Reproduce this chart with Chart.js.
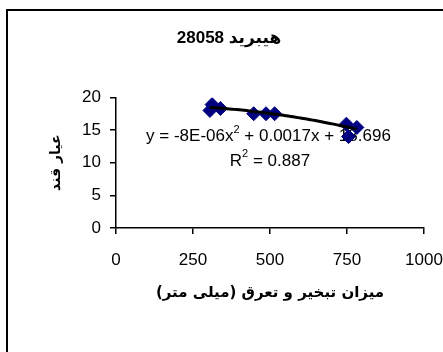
<!DOCTYPE html>
<html>
<head>
<meta charset="utf-8">
<script src="https://cdn.jsdelivr.net/npm/chart.js@4/dist/chart.umd.min.js"></script>
<style>
  html, body { margin: 0; padding: 0; background: #fff; }
  #wrap { width: 443px; height: 352px; }
</style>
</head>
<body>
<div id="wrap"><canvas id="c" width="443" height="352"></canvas></div>
<script>
// Observations: evapotranspiration (mm) vs. sugar content
const evapotranspiration = [305, 312, 339, 447, 487, 515, 748, 755, 782];
const sugarContent = [18.0, 18.9, 18.3, 17.5, 17.5, 17.5, 15.9, 14.0, 15.4];

// Polynomial trend line (order 2): a*x^2 + b*x + c
const trendCoef = [-8e-6, 0.0017, 18.696];
const trendR2 = '0.887';

const xTicks = [0, 250, 500, 750, 1000];
const yTicks = [0, 5, 10, 15, 20];

const chartTitle = 'هیبرید 28058';
const xTitle = 'میزان تبخیر و تعرق (میلی متر)\u200F';
const yTitle = 'عیار قند';

const LATIN = "'Liberation Sans', Arial, 'DejaVu Sans', sans-serif";

// Trend curve sampled over the observed range
const xMin = Math.min(...evapotranspiration);
const xMax = Math.max(...evapotranspiration);
const trendPoints = [];
for (let i = 0; i <= 60; i++) {
  const x = xMin + (xMax - xMin) * i / 60;
  trendPoints.push({ x, y: trendCoef[0] * x * x + trendCoef[1] * x + trendCoef[2] });
}

const scatterPoints = evapotranspiration.map((x, i) => ({ x, y: sugarContent[i] }));

// Outer frame (left and top edges)
const framePlugin = {
  id: 'frame',
  beforeDraw(chart) {
    const ctx = chart.ctx;
    ctx.save();
    ctx.strokeStyle = '#000';
    ctx.lineWidth = 2;
    ctx.beginPath();
    ctx.moveTo(7, chart.height);
    ctx.lineTo(7, 10);
    ctx.lineTo(chart.width, 10);
    ctx.stroke();
    ctx.restore();
  }
};

// Trend line equation and R² label
const equationPlugin = {
  id: 'equation',
  beforeDatasetsDraw(chart, args, opts) {
    const ctx = chart.ctx;
    const xs = chart.scales.x, ys = chart.scales.y;
    const main = '17px ' + LATIN;
    const sup = '11px ' + LATIN;
    const parts1 = [
      ['y = -8E-06x', main, 0],
      ['2', sup, -7],
      [' + 0.0017x + 18.696', main, 0]
    ];
    const parts2 = [
      ['R', main, 0],
      ['2', sup, -7],
      [' = ' + trendR2, main, 0]
    ];
    const drawLine = (parts, cx, cy) => {
      let w = 0;
      parts.forEach(p => { ctx.font = p[1]; w += ctx.measureText(p[0]).width; });
      let x = cx - w / 2;
      parts.forEach(p => {
        ctx.font = p[1];
        ctx.fillText(p[0], x, cy + p[2]);
        x += ctx.measureText(p[0]).width;
      });
    };
    ctx.save();
    ctx.fillStyle = '#000';
    ctx.textBaseline = 'middle';
    ctx.textAlign = 'left';
    ctx.direction = 'ltr';
    drawLine(parts1, xs.getPixelForValue(opts.eqX), ys.getPixelForValue(opts.eqY));
    drawLine(parts2, xs.getPixelForValue(opts.r2X), ys.getPixelForValue(opts.r2Y));
    ctx.restore();
  }
};

new Chart(document.getElementById('c'), {
  type: 'scatter',
  data: {
    datasets: [
      {
        label: 'trend',
        type: 'line',
        data: trendPoints,
        borderColor: '#000',
        borderWidth: 3,
        pointRadius: 0,
        fill: false,
        tension: 0,
        order: 0
      },
      {
        label: 'data',
        data: scatterPoints,
        pointStyle: 'rectRot',
        pointRadius: 7,
        pointHoverRadius: 7,
        backgroundColor: '#000080',
        borderColor: '#000080',
        borderWidth: 1,
        order: 1
      }
    ]
  },
  plugins: [framePlugin, equationPlugin],
  options: {
    responsive: false,
    animation: false,
    devicePixelRatio: 1,
    layout: { padding: { left: 34, right: 19, top: 0, bottom: 0 } },
    plugins: {
      legend: { display: false },
      tooltip: { enabled: false },
      title: {
        display: true,
        text: chartTitle,
        color: '#000',
        font: { family: LATIN, size: 17, weight: 'bold' },
        padding: { top: 28, bottom: 49 }
      },
      equation: { eqX: 495, eqY: 14.0, r2X: 500, r2Y: 10.2 }
    },
    scales: {
      x: {
        type: 'linear',
        min: xTicks[0],
        max: xTicks[xTicks.length - 1],
        afterBuildTicks(scale) { scale.ticks = xTicks.map(v => ({ value: v })); },
        afterFit(scale) {
          scale.height = 124;
          // the last label may run to the canvas edge
          scale.paddingLeft = 0;
          scale.paddingRight = 0;
        },
        border: { display: true, color: '#000', width: 1.5 },
        grid: { drawOnChartArea: false, drawTicks: true, tickLength: 6, color: '#000', lineWidth: 1.5 },
        ticks: {
          color: '#000',
          font: { family: LATIN, size: 17 },
          padding: 16,
          maxRotation: 0,
          autoSkip: false,
          callback: v => String(v)
        },
        title: {
          display: true,
          text: xTitle,
          color: '#000',
          font: { family: "'DejaVu Sans', sans-serif", size: 15, weight: 'bold' },
          padding: { top: 0, bottom: 50 }
        }
      },
      y: {
        type: 'linear',
        min: yTicks[0],
        max: yTicks[yTicks.length - 1],
        afterBuildTicks(scale) { scale.ticks = yTicks.map(v => ({ value: v })); },
        afterFit(scale) { scale.width = 82; },
        border: { display: true, color: '#000', width: 1.5 },
        grid: { drawOnChartArea: false, drawTicks: true, tickLength: 6, color: '#000', lineWidth: 1.5 },
        ticks: {
          color: '#000',
          font: { family: LATIN, size: 17 },
          padding: 9,
          callback: v => String(v)
        },
        title: {
          display: true,
          text: yTitle,
          color: '#000',
          font: { family: "'DejaVu Sans', sans-serif", size: 14, weight: 'bold' },
          padding: { top: 14, bottom: 0 }
        }
      }
    }
  }
});
</script>
</body>
</html>
